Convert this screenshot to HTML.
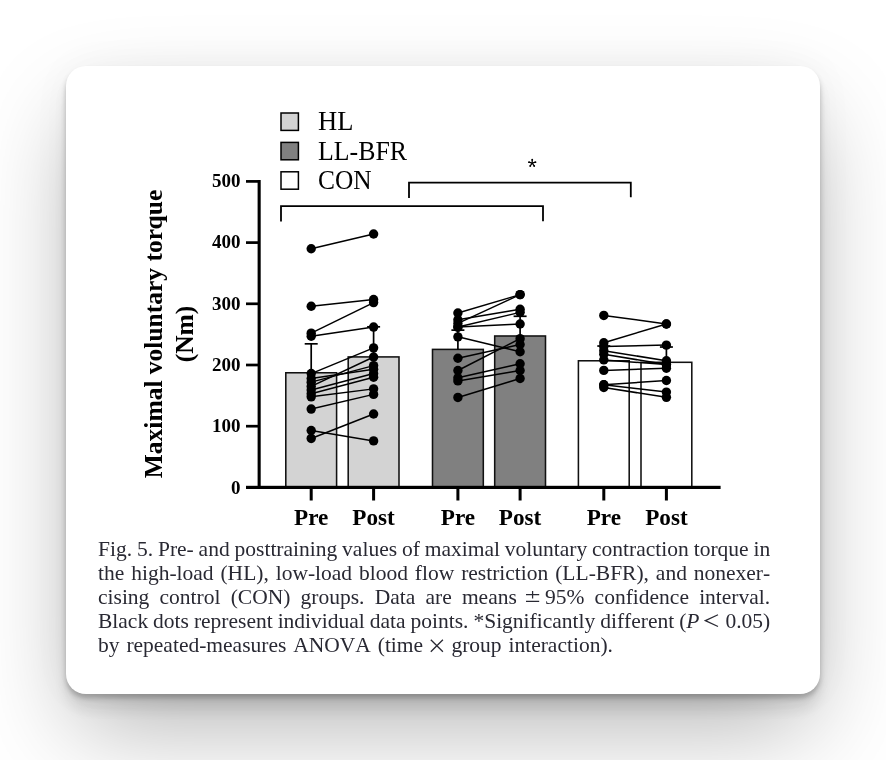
<!DOCTYPE html>
<html><head><meta charset="utf-8"><style>
html,body{margin:0;padding:0;background:#fff;width:886px;height:760px;overflow:hidden;position:relative}
.card{position:absolute;left:66px;top:66px;width:754px;height:628px;background:#fff;border-radius:20px;
box-shadow:0 4px 5px rgba(0,0,0,0.224),0 15px 13px rgba(0,0,0,0.083),0 42px 98px -10px rgba(0,0,0,0.299),0 0 40px rgba(0,0,0,0.04)}
svg{position:absolute;left:0;top:0;will-change:transform;font-family:"Liberation Serif",serif;fill:#000}
.cap{will-change:transform;position:absolute;left:97.6px;top:537.5px;width:672.2px;font-family:"Liberation Serif",serif;font-size:21.5px;line-height:23.8px;color:#292933}
.cap .l{text-align:justify;text-align-last:justify;white-space:nowrap;word-spacing:-1px;font-kerning:none}
.cap .sym{display:inline-block;position:relative;height:1px}
.cap .l.last{text-align-last:left;word-spacing:1.5px}
</style></head><body>
<div class="card"></div>
<svg width="886" height="760" viewBox="0 0 886 760">
<rect x="285.80" y="372.77" width="50.80" height="114.63" fill="#d3d3d3" stroke="#111" stroke-width="1.55"/>
<rect x="348.20" y="356.92" width="50.80" height="130.48" fill="#d3d3d3" stroke="#111" stroke-width="1.55"/>
<rect x="432.50" y="349.39" width="50.80" height="138.01" fill="#808080" stroke="#111" stroke-width="1.55"/>
<rect x="494.70" y="335.99" width="50.80" height="151.41" fill="#808080" stroke="#111" stroke-width="1.55"/>
<rect x="578.40" y="360.78" width="50.80" height="126.62" fill="#ffffff" stroke="#111" stroke-width="1.55"/>
<rect x="641.00" y="362.31" width="50.80" height="125.09" fill="#ffffff" stroke="#111" stroke-width="1.55"/>
<line x1="311.20" y1="372.77" x2="311.20" y2="343.82" stroke="#000" stroke-width="1.7"/>
<line x1="304.70" y1="343.82" x2="317.70" y2="343.82" stroke="#000" stroke-width="1.7"/>
<line x1="373.60" y1="356.92" x2="373.60" y2="326.81" stroke="#000" stroke-width="1.7"/>
<line x1="367.10" y1="326.81" x2="380.10" y2="326.81" stroke="#000" stroke-width="1.7"/>
<line x1="457.90" y1="349.39" x2="457.90" y2="330.12" stroke="#000" stroke-width="1.7"/>
<line x1="451.40" y1="330.12" x2="464.40" y2="330.12" stroke="#000" stroke-width="1.7"/>
<line x1="520.10" y1="335.99" x2="520.10" y2="316.28" stroke="#000" stroke-width="1.7"/>
<line x1="513.60" y1="316.28" x2="526.60" y2="316.28" stroke="#000" stroke-width="1.7"/>
<line x1="603.80" y1="360.78" x2="603.80" y2="346.03" stroke="#000" stroke-width="1.7"/>
<line x1="597.30" y1="346.03" x2="610.30" y2="346.03" stroke="#000" stroke-width="1.7"/>
<line x1="666.40" y1="362.31" x2="666.40" y2="347.01" stroke="#000" stroke-width="1.7"/>
<line x1="659.90" y1="347.01" x2="672.90" y2="347.01" stroke="#000" stroke-width="1.7"/>
<line x1="311.20" y1="248.72" x2="373.60" y2="234.03" stroke="#000" stroke-width="1.5"/>
<line x1="311.20" y1="306.25" x2="373.60" y2="299.52" stroke="#000" stroke-width="1.5"/>
<line x1="311.20" y1="333.18" x2="373.60" y2="302.58" stroke="#000" stroke-width="1.5"/>
<line x1="311.20" y1="336.24" x2="373.60" y2="327.06" stroke="#000" stroke-width="1.5"/>
<line x1="311.20" y1="373.57" x2="373.60" y2="347.86" stroke="#000" stroke-width="1.5"/>
<line x1="311.20" y1="378.46" x2="373.60" y2="369.28" stroke="#000" stroke-width="1.5"/>
<line x1="311.20" y1="382.14" x2="373.60" y2="365.61" stroke="#000" stroke-width="1.5"/>
<line x1="311.20" y1="386.42" x2="373.60" y2="357.04" stroke="#000" stroke-width="1.5"/>
<line x1="311.20" y1="390.09" x2="373.60" y2="373.57" stroke="#000" stroke-width="1.5"/>
<line x1="311.20" y1="393.76" x2="373.60" y2="377.24" stroke="#000" stroke-width="1.5"/>
<line x1="311.20" y1="396.82" x2="373.60" y2="388.87" stroke="#000" stroke-width="1.5"/>
<line x1="311.20" y1="409.06" x2="373.60" y2="394.38" stroke="#000" stroke-width="1.5"/>
<line x1="311.20" y1="430.48" x2="373.60" y2="440.89" stroke="#000" stroke-width="1.5"/>
<line x1="311.20" y1="438.44" x2="373.60" y2="413.96" stroke="#000" stroke-width="1.5"/>
<circle cx="311.20" cy="248.72" r="4.7"/>
<circle cx="373.60" cy="234.03" r="4.7"/>
<circle cx="311.20" cy="306.25" r="4.7"/>
<circle cx="373.60" cy="299.52" r="4.7"/>
<circle cx="311.20" cy="333.18" r="4.7"/>
<circle cx="373.60" cy="302.58" r="4.7"/>
<circle cx="311.20" cy="336.24" r="4.7"/>
<circle cx="373.60" cy="327.06" r="4.7"/>
<circle cx="311.20" cy="373.57" r="4.7"/>
<circle cx="373.60" cy="347.86" r="4.7"/>
<circle cx="311.20" cy="378.46" r="4.7"/>
<circle cx="373.60" cy="369.28" r="4.7"/>
<circle cx="311.20" cy="382.14" r="4.7"/>
<circle cx="373.60" cy="365.61" r="4.7"/>
<circle cx="311.20" cy="386.42" r="4.7"/>
<circle cx="373.60" cy="357.04" r="4.7"/>
<circle cx="311.20" cy="390.09" r="4.7"/>
<circle cx="373.60" cy="373.57" r="4.7"/>
<circle cx="311.20" cy="393.76" r="4.7"/>
<circle cx="373.60" cy="377.24" r="4.7"/>
<circle cx="311.20" cy="396.82" r="4.7"/>
<circle cx="373.60" cy="388.87" r="4.7"/>
<circle cx="311.20" cy="409.06" r="4.7"/>
<circle cx="373.60" cy="394.38" r="4.7"/>
<circle cx="311.20" cy="430.48" r="4.7"/>
<circle cx="373.60" cy="440.89" r="4.7"/>
<circle cx="311.20" cy="438.44" r="4.7"/>
<circle cx="373.60" cy="413.96" r="4.7"/>
<line x1="457.90" y1="312.98" x2="520.10" y2="294.62" stroke="#000" stroke-width="1.5"/>
<line x1="457.90" y1="319.71" x2="520.10" y2="309.31" stroke="#000" stroke-width="1.5"/>
<line x1="457.90" y1="323.38" x2="520.10" y2="294.62" stroke="#000" stroke-width="1.5"/>
<line x1="457.90" y1="327.06" x2="520.10" y2="312.37" stroke="#000" stroke-width="1.5"/>
<line x1="457.90" y1="327.06" x2="520.10" y2="324.00" stroke="#000" stroke-width="1.5"/>
<line x1="457.90" y1="336.85" x2="520.10" y2="351.78" stroke="#000" stroke-width="1.5"/>
<line x1="457.90" y1="358.27" x2="520.10" y2="344.50" stroke="#000" stroke-width="1.5"/>
<line x1="457.90" y1="370.51" x2="520.10" y2="338.68" stroke="#000" stroke-width="1.5"/>
<line x1="457.90" y1="377.85" x2="520.10" y2="363.78" stroke="#000" stroke-width="1.5"/>
<line x1="457.90" y1="380.91" x2="520.10" y2="370.51" stroke="#000" stroke-width="1.5"/>
<line x1="457.90" y1="397.44" x2="520.10" y2="378.46" stroke="#000" stroke-width="1.5"/>
<circle cx="457.90" cy="312.98" r="4.7"/>
<circle cx="520.10" cy="294.62" r="4.7"/>
<circle cx="457.90" cy="319.71" r="4.7"/>
<circle cx="520.10" cy="309.31" r="4.7"/>
<circle cx="457.90" cy="323.38" r="4.7"/>
<circle cx="520.10" cy="294.62" r="4.7"/>
<circle cx="457.90" cy="327.06" r="4.7"/>
<circle cx="520.10" cy="312.37" r="4.7"/>
<circle cx="457.90" cy="327.06" r="4.7"/>
<circle cx="520.10" cy="324.00" r="4.7"/>
<circle cx="457.90" cy="336.85" r="4.7"/>
<circle cx="520.10" cy="351.78" r="4.7"/>
<circle cx="457.90" cy="358.27" r="4.7"/>
<circle cx="520.10" cy="344.50" r="4.7"/>
<circle cx="457.90" cy="370.51" r="4.7"/>
<circle cx="520.10" cy="338.68" r="4.7"/>
<circle cx="457.90" cy="377.85" r="4.7"/>
<circle cx="520.10" cy="363.78" r="4.7"/>
<circle cx="457.90" cy="380.91" r="4.7"/>
<circle cx="520.10" cy="370.51" r="4.7"/>
<circle cx="457.90" cy="397.44" r="4.7"/>
<circle cx="520.10" cy="378.46" r="4.7"/>
<line x1="603.80" y1="315.43" x2="666.40" y2="324.00" stroke="#000" stroke-width="1.5"/>
<line x1="603.80" y1="342.72" x2="666.40" y2="324.00" stroke="#000" stroke-width="1.5"/>
<line x1="603.80" y1="346.40" x2="666.40" y2="345.11" stroke="#000" stroke-width="1.5"/>
<line x1="603.80" y1="350.68" x2="666.40" y2="360.78" stroke="#000" stroke-width="1.5"/>
<line x1="603.80" y1="354.29" x2="666.40" y2="364.51" stroke="#000" stroke-width="1.5"/>
<line x1="603.80" y1="359.92" x2="666.40" y2="364.51" stroke="#000" stroke-width="1.5"/>
<line x1="603.80" y1="370.39" x2="666.40" y2="368.18" stroke="#000" stroke-width="1.5"/>
<line x1="603.80" y1="384.71" x2="666.40" y2="380.48" stroke="#000" stroke-width="1.5"/>
<line x1="603.80" y1="384.71" x2="666.40" y2="392.11" stroke="#000" stroke-width="1.5"/>
<line x1="603.80" y1="387.52" x2="666.40" y2="397.31" stroke="#000" stroke-width="1.5"/>
<circle cx="603.80" cy="315.43" r="4.7"/>
<circle cx="666.40" cy="324.00" r="4.7"/>
<circle cx="603.80" cy="342.72" r="4.7"/>
<circle cx="666.40" cy="324.00" r="4.7"/>
<circle cx="603.80" cy="346.40" r="4.7"/>
<circle cx="666.40" cy="345.11" r="4.7"/>
<circle cx="603.80" cy="350.68" r="4.7"/>
<circle cx="666.40" cy="360.78" r="4.7"/>
<circle cx="603.80" cy="354.29" r="4.7"/>
<circle cx="666.40" cy="364.51" r="4.7"/>
<circle cx="603.80" cy="359.92" r="4.7"/>
<circle cx="666.40" cy="364.51" r="4.7"/>
<circle cx="603.80" cy="370.39" r="4.7"/>
<circle cx="666.40" cy="368.18" r="4.7"/>
<circle cx="603.80" cy="384.71" r="4.7"/>
<circle cx="666.40" cy="380.48" r="4.7"/>
<circle cx="603.80" cy="384.71" r="4.7"/>
<circle cx="666.40" cy="392.11" r="4.7"/>
<circle cx="603.80" cy="387.52" r="4.7"/>
<circle cx="666.40" cy="397.31" r="4.7"/>
<rect x="257.60" y="180.00" width="3.10" height="309.00" fill="#000"/>
<rect x="246.00" y="485.80" width="474.60" height="3.20" fill="#000"/>
<rect x="246.00" y="424.85" width="12.00" height="2.70" fill="#000"/>
<rect x="246.00" y="363.65" width="12.00" height="2.70" fill="#000"/>
<rect x="246.00" y="302.45" width="12.00" height="2.70" fill="#000"/>
<rect x="246.00" y="241.25" width="12.00" height="2.70" fill="#000"/>
<rect x="246.00" y="180.05" width="12.00" height="2.70" fill="#000"/>
<rect x="309.70" y="488.00" width="3.00" height="12.50" fill="#000"/>
<rect x="372.10" y="488.00" width="3.00" height="12.50" fill="#000"/>
<rect x="456.40" y="488.00" width="3.00" height="12.50" fill="#000"/>
<rect x="518.60" y="488.00" width="3.00" height="12.50" fill="#000"/>
<rect x="602.30" y="488.00" width="3.00" height="12.50" fill="#000"/>
<rect x="664.90" y="488.00" width="3.00" height="12.50" fill="#000"/>
<text x="240.50" y="494.30" font-size="19" font-weight="bold" text-anchor="end" >0</text>
<text x="240.50" y="431.50" font-size="19" font-weight="bold" text-anchor="end" >100</text>
<text x="240.50" y="371.30" font-size="19" font-weight="bold" text-anchor="end" >200</text>
<text x="240.50" y="310.10" font-size="19" font-weight="bold" text-anchor="end" >300</text>
<text x="240.50" y="248.30" font-size="19" font-weight="bold" text-anchor="end" >400</text>
<text x="240.50" y="187.30" font-size="19" font-weight="bold" text-anchor="end" >500</text>
<text x="311.20" y="524.90" font-size="23.2" font-weight="bold" text-anchor="middle" >Pre</text>
<text x="373.60" y="524.90" font-size="23.2" font-weight="bold" text-anchor="middle" >Post</text>
<text x="457.90" y="524.90" font-size="23.2" font-weight="bold" text-anchor="middle" >Pre</text>
<text x="520.10" y="524.90" font-size="23.2" font-weight="bold" text-anchor="middle" >Post</text>
<text x="603.80" y="524.90" font-size="23.2" font-weight="bold" text-anchor="middle" >Pre</text>
<text x="666.40" y="524.90" font-size="23.2" font-weight="bold" text-anchor="middle" >Post</text>
<text transform="translate(162.2,334) rotate(-90)" font-size="25.5" font-weight="bold" text-anchor="middle">Maximal voluntary torque</text>
<text transform="translate(192.5,334) rotate(-90)" font-size="25.5" font-weight="bold" text-anchor="middle">(Nm)</text>
<rect x="281.00" y="113.00" width="17.40" height="17.40" fill="#d3d3d3" stroke="#000" stroke-width="1.5"/>
<text x="318.00" y="130.40" font-size="26.5" font-weight="normal" text-anchor="start" >HL</text>
<rect x="281.00" y="142.40" width="17.40" height="17.40" fill="#808080" stroke="#000" stroke-width="1.5"/>
<text x="318.00" y="159.80" font-size="26.5" font-weight="normal" text-anchor="start" textLength="89.0" lengthAdjust="spacingAndGlyphs">LL-BFR</text>
<rect x="281.00" y="171.80" width="17.40" height="17.40" fill="#ffffff" stroke="#000" stroke-width="1.5"/>
<text x="318.00" y="189.20" font-size="26.5" font-weight="normal" text-anchor="start" textLength="53.6" lengthAdjust="spacingAndGlyphs">CON</text>
<path d="M281 221.6 V206.2 H543 V221.2" fill="none" stroke="#000" stroke-width="1.8"/>
<path d="M409 197.9 V182.7 H630.8 V197.2" fill="none" stroke="#000" stroke-width="1.8"/>
<line x1="532.20" y1="163.20" x2="532.20" y2="159.80" stroke="#000" stroke-width="1.25"/>
<circle cx="532.20" cy="159.80" r="0.95"/>
<line x1="532.20" y1="163.20" x2="528.97" y2="162.15" stroke="#000" stroke-width="1.25"/>
<circle cx="528.97" cy="162.15" r="0.95"/>
<line x1="532.20" y1="163.20" x2="535.43" y2="162.15" stroke="#000" stroke-width="1.25"/>
<circle cx="535.43" cy="162.15" r="0.95"/>
<line x1="532.20" y1="163.20" x2="530.20" y2="165.95" stroke="#000" stroke-width="1.25"/>
<circle cx="530.20" cy="165.95" r="0.95"/>
<line x1="532.20" y1="163.20" x2="534.20" y2="165.95" stroke="#000" stroke-width="1.25"/>
<circle cx="534.20" cy="165.95" r="0.95"/>
</svg>
<div class="cap">
<div class="l">Fig. 5. Pre- and posttraining values of maximal voluntary contraction torque in</div>
<div class="l">the high-load (HL), low-load blood flow restriction (LL-BFR), and nonexer-</div>
<div class="l">cising control (CON) groups. Data are means<span class="sym" style="width:28.2px"><svg width="28.2" height="14" viewBox="0 0 28.2 14" style="position:absolute;left:0;top:-13.2px"><path d="M15.6 1.9 V9.5 M9.0 5.7 H22.2 M9.0 12.5 H22.2" stroke="#292933" stroke-width="1.25" fill="none"/></svg></span>95% confidence interval.</div>
<div class="l" style="margin-top:0.8px">Black dots represent individual data points. *Significantly different (<i>P</i> <span class="sym" style="width:16px"><svg width="16" height="14" viewBox="0 0 16 14" style="position:absolute;left:0;top:-13.2px"><path d="M14.0 0.7 L1.4 6.6 L14.0 12.5" stroke="#292933" stroke-width="1.25" fill="none"/></svg></span> 0.05)</div>
<div class="l last">by repeated-measures ANOVA (time <span class="sym" style="width:14.6px"><svg width="14.6" height="14" viewBox="0 0 14.6 14" style="position:absolute;left:0;top:-12.4px"><path d="M0.8 0.7 L12.9 12.8 M12.9 0.7 L0.8 12.8" stroke="#292933" stroke-width="1.3" fill="none"/></svg></span> group interaction).</div>
</div>
</body></html>
